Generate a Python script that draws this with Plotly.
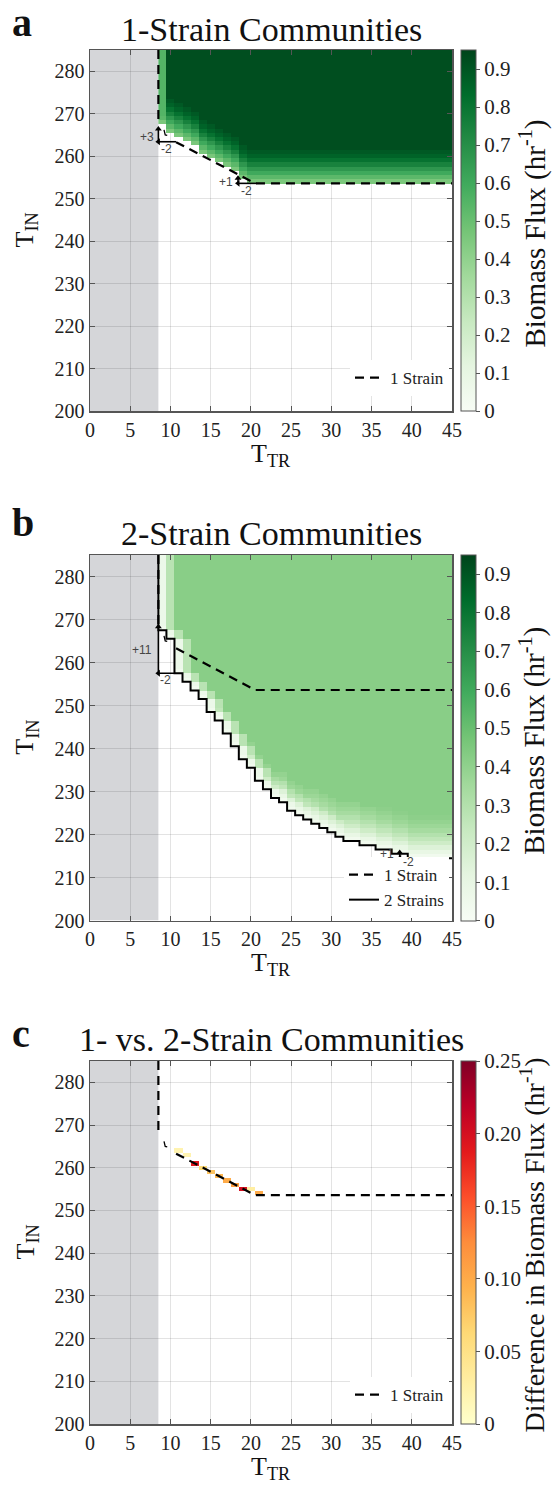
import plotly.graph_objects as go

W, H = 552, 1489

# ---------------- data ----------------
T_TR = list(range(9, 46))          # heat-map cell centres (T_TR)
T_IN = list(range(200, 286))       # heat-map cell centres (T_IN)
X_TICKS = [0, 5, 10, 15, 20, 25, 30, 35, 40, 45]
Y_TICKS = [200, 210, 220, 230, 240, 250, 260, 270, 280]
CB_TICKS_AB = [0, 0.1, 0.2, 0.3, 0.4, 0.5, 0.6, 0.7, 0.8, 0.9]
CB_TICKS_C = [0, 0.05, 0.10, 0.15, 0.20, 0.25]
CB_TEXT_C = ["0", "0.05", "0.10", "0.15", "0.20", "0.25"]
INFEASIBLE_TR = 8.5

# Panel a: lowest feasible T_IN per T_TR column (9..45)
BOUND_A = [268, 266, 265, 264, 263, 261, 260, 259, 258, 257, 255, 254,
           254, 254, 254, 254, 254, 254, 254, 254, 254, 254, 254, 254, 254,
           254, 254, 254, 254, 254, 254, 254, 254, 254, 254, 254, 254]
FADE_A = [8] * 37
RAMP_A = [0.46, 0.53, 0.60, 0.67, 0.75, 0.81, 0.86, 0.89]
EDGE_A = [0.55]
PLATEAU_A = 0.92

# Panel b: lowest feasible T_IN per T_TR column (9..45)
BOUND_B = [268, 266, 258, 256, 254, 252, 249, 247, 244, 241, 238, 236,
           233, 231, 229, 228, 226, 225, 224, 223, 222, 221, 220, 219, 219,
           218, 218, 217, 217, 216, 216, 215, 215, 215, 215, 215, 215]
FADE_B = [2, 2, 2, 3, 3, 4, 4, 5, 5, 5, 5, 6, 6, 6, 6, 7, 7, 7, 7, 8, 8,
          8, 8, 9, 9, 9, 9, 10, 10, 10, 10, 10, 10, 10, 10, 10, 10]
RAMP_B = [0.04, 0.09, 0.15, 0.21, 0.26, 0.30, 0.34, 0.37, 0.39, 0.41]
EDGE_B = [0.07, 0.28]
PLATEAU_B = 0.42

# 1-strain boundary (dashed line)
ONE_X = [8.5, 8.5, None, 10.7, 13.7, 17.0, 20.5, 45.0]
ONE_Y = [285, 268, None, 263.3, 260.4, 257.1, 253.6, 253.6]
TICK_X = [9.2, 9.35, 9.6]
TICK_Y = [266.2, 265.0, 264.9]

# Panel c: difference cells
DIFF_TR = [11, 12, 13, 14, 15, 16, 17, 18, 19, 20, 21]
DIFF_IN = [264, 263, 261, 260, 259, 258, 257, 256, 255, 255, 254]
DIFF_VAL = [0.02, 0.02, 0.19, 0.06, 0.08, 0.09, 0.10, 0.11, 0.20, 0.03, 0.10]

# shift markers (tail x, tail y, head x, head y) and their labels
ARROWS_A = [(8.5, 263.4, 8.5, 266.4), (10.7, 263.4, 8.5, 263.4),
            (18.4, 253.6, 18.4, 254.8), (20.7, 253.6, 18.4, 253.6)]
LABELS_A = [(8.2, 264.4, '+3', 'right'), (9.5, 261.8, '-2', 'center'),
            (18.0, 253.9, '+1', 'right'), (19.5, 251.9, '-2', 'center')]
ARROWS_B = [(8.5, 257.5, 8.5, 268.3), (10.5, 257.5, 8.5, 257.5),
            (38.5, 214.5, 38.5, 215.8), (40.6, 214.5, 38.5, 214.5)]
LABELS_B = [(8.0, 262.9, '+11', 'right'), (9.4, 256.0, '-2', 'center'),
            (38.0, 215.4, '+1', 'right'), (39.6, 213.7, '-2', 'center')]

GREENS = ['#f7fcf5', '#e5f5e0', '#c7e9c0', '#a1d99b', '#74c476',
          '#41ab5d', '#238b45', '#006d2c', '#00441b']
YLORRD = ['#ffffcc', '#ffeda0', '#fed976', '#feb24c', '#fd8d3c',
          '#fc4e2a', '#e31a1c', '#bd0026', '#800026']


def scale(cols):
    n = len(cols) - 1
    return [[i / n, c] for i, c in enumerate(cols)]


def build_field(bound, fade, ramp, edge, plateau):
    z = []
    for r in T_IN:
        feas = [c for c, b in zip(T_TR, bound) if r >= b]
        left = min(feas) if feas else None
        row = []
        for c, b, f in zip(T_TR, bound, fade):
            if r < b:
                row.append(None)
                continue
            dy = r - b
            v = ramp[min(len(ramp) - 1, int(dy * len(ramp) / f))] if dy < f else plateau
            dx = c - left
            if dx < len(edge):
                v = min(v, edge[dx])
            row.append(v)
        z.append(row)
    return z


Z_A = build_field(BOUND_A, FADE_A, RAMP_A, EDGE_A, PLATEAU_A)
Z_B = build_field(BOUND_B, FADE_B, RAMP_B, EDGE_B, PLATEAU_B)
Z_C = [[None for _ in T_TR] for _ in T_IN]
for c, r, v in zip(DIFF_TR, DIFF_IN, DIFF_VAL):
    Z_C[T_IN.index(r)][T_TR.index(c)] = v

# 2-strain step boundary
TWO_X = [INFEASIBLE_TR] + [c - 0.5 for c in T_TR] + [45.0]
TWO_Y = [285] + [b - 0.5 for b in BOUND_B] + [BOUND_B[-1] - 0.5]

# ---------------- layout geometry (pixels) ----------------
PL, PR = 90, 452
TOPS = [50, 555, 1061]
BOTS = [411, 920.5, 1424]
CB_X = 461
SERIF = "Liberation Serif"
SANS = "Liberation Sans"


def px_x(p):
    return p / W


def px_y(p):
    return 1 - p / H


fig = go.Figure()

axis_common = dict(
    showgrid=True, gridcolor='rgba(0,0,0,0.11)', gridwidth=1, automargin=False,
    ticks='inside', ticklen=5, tickwidth=1, tickcolor='#555',
    showline=True, linecolor='#555', linewidth=1.5, mirror='ticks',
    zeroline=False, tickfont=dict(family=SERIF, size=20, color='#222'),
)

for i in range(3):
    n = '' if i == 0 else str(i + 1)
    fig.update_layout(**{
        'xaxis' + n: dict(axis_common, domain=[px_x(PL), px_x(PR)], range=[0, 45],
                          tickvals=X_TICKS, anchor='y' + n),
        'yaxis' + n: dict(axis_common, domain=[px_y(BOTS[i]), px_y(TOPS[i])],
                          range=[200, 285], tickvals=Y_TICKS, anchor='x' + n),
    })
    fig.add_shape(type='rect', xref='x' + n, yref='y' + n, x0=0, x1=INFEASIBLE_TR,
                  y0=200, y1=285, fillcolor='#d5d6d9', line=dict(width=0), layer='below')


def cbar(i, tickvals, ticktext=None):
    d = dict(x=px_x(CB_X), xanchor='left', y=px_y((TOPS[i] + BOTS[i]) / 2), yanchor='middle',
             len=BOTS[i] - TOPS[i], lenmode='pixels', thickness=15, thicknessmode='pixels',
             xpad=0, ypad=0, outlinewidth=1, outlinecolor='#555',
             tickvals=tickvals, ticks='outside', ticklen=4, tickcolor='#555',
             tickfont=dict(family=SERIF, size=21, color='#222'))
    if ticktext:
        d['ticktext'] = ticktext
    return d


fig.add_trace(go.Heatmap(x=T_TR, y=T_IN, z=Z_A, colorscale=scale(GREENS), zmin=0, zmax=0.95,
                         colorbar=cbar(0, CB_TICKS_AB), hoverinfo='skip',
                         xaxis='x', yaxis='y'))
fig.add_trace(go.Heatmap(x=T_TR, y=T_IN, z=Z_B, colorscale=scale(GREENS), zmin=0, zmax=0.95,
                         colorbar=cbar(1, CB_TICKS_AB), hoverinfo='skip',
                         xaxis='x2', yaxis='y2'))
fig.add_trace(go.Heatmap(x=T_TR, y=T_IN, z=Z_C, colorscale=scale(YLORRD), zmin=0, zmax=0.25,
                         colorbar=cbar(2, CB_TICKS_C, CB_TEXT_C), hoverinfo='skip',
                         xaxis='x3', yaxis='y3'))

dash_line = dict(color='black', width=2.2, dash='9px,6px')
legends = ['legend', 'legend2', 'legend3']
for i in range(3):
    n = '' if i == 0 else str(i + 1)
    fig.add_trace(go.Scatter(x=ONE_X, y=ONE_Y, mode='lines', line=dash_line, name='1 Strain',
                             legend=legends[i], xaxis='x' + n, yaxis='y' + n, hoverinfo='skip'))
    fig.add_trace(go.Scatter(x=TICK_X, y=TICK_Y, mode='lines', line=dict(color='black', width=1.3),
                             showlegend=False, xaxis='x' + n, yaxis='y' + n, hoverinfo='skip'))
    if i == 1:
        fig.add_trace(go.Scatter(x=TWO_X, y=TWO_Y, mode='lines', line_shape='hv',
                                 line=dict(color='black', width=2), name='2 Strains',
                                 legend='legend2', xaxis='x2', yaxis='y2', hoverinfo='skip'))


def add_arrows(arrows, n):
    for (tx, ty, hx, hy) in arrows:
        sym = 'triangle-up' if hx == tx else 'triangle-left'
        fig.add_trace(go.Scatter(x=[tx, hx], y=[ty, hy], mode='lines',
                                 line=dict(color='black', width=1.6), showlegend=False,
                                 xaxis='x' + n, yaxis='y' + n, hoverinfo='skip'))
        fig.add_trace(go.Scatter(x=[hx], y=[hy], mode='markers',
                                 marker=dict(symbol=sym, size=6, color='black'),
                                 showlegend=False, xaxis='x' + n, yaxis='y' + n, hoverinfo='skip'))


add_arrows(ARROWS_A, '')
add_arrows(ARROWS_B, '2')

leg_common = dict(xanchor='right', yanchor='bottom', bgcolor='white', borderwidth=0,
                  font=dict(family=SERIF, size=17, color='#222'), itemwidth=30,
                  tracegroupgap=0)
fig.update_layout(
    legend=dict(leg_common, x=px_x(449), y=px_y(396)),
    legend2=dict(leg_common, x=px_x(449), y=px_y(918)),
    legend3=dict(leg_common, x=px_x(449), y=px_y(1413)),
)

ann = []
TITLES = ["1-Strain Communities", "2-Strain Communities", "1- vs. 2-Strain Communities"]
LETTERS = ["a", "b", "c"]
LETTER_BASE = [38, 538, 1049]
TITLE_BASE = [42, 546, 1052]
CB_TITLES = ["Biomass Flux (hr<sup>-1</sup>)", "Biomass Flux (hr<sup>-1</sup>)",
             "Difference in Biomass Flux (hr<sup>-1</sup>)"]
CB_TITLE_SIZE = [29, 29, 28]
for i in range(3):
    mid = (TOPS[i] + BOTS[i]) / 2
    ann.append(dict(text=TITLES[i], xref='paper', yref='paper', x=px_x((PL + PR) / 2),
                    y=px_y(TITLE_BASE[i] + 8), xanchor='center', yanchor='bottom',
                    showarrow=False, font=dict(family=SERIF, size=34, color='#111')))
    ann.append(dict(text='<b>' + LETTERS[i] + '</b>', xref='paper', yref='paper', x=px_x(10),
                    y=px_y(LETTER_BASE[i] + 9), xanchor='left', yanchor='bottom',
                    showarrow=False, font=dict(family=SERIF, size=40, color='#111')))
    ann.append(dict(text='T<sub>TR</sub>', xref='paper', yref='paper', x=px_x((PL + PR) / 2),
                    y=px_y(BOTS[i] + 26), xanchor='center', yanchor='top',
                    showarrow=False, font=dict(family=SERIF, size=26, color='#111')))
    ann.append(dict(text='T<sub>IN</sub>', xref='paper', yref='paper', x=px_x(26),
                    y=px_y(mid), xanchor='center', yanchor='middle', textangle=-90,
                    showarrow=False, font=dict(family=SERIF, size=26, color='#111')))
    ann.append(dict(text=CB_TITLES[i], xref='paper', yref='paper', x=px_x(533),
                    y=px_y(mid + 3), xanchor='center', yanchor='middle', textangle=-90,
                    showarrow=False, font=dict(family=SERIF, size=CB_TITLE_SIZE[i], color='#111')))


def label(n, x, y, t, xa):
    return dict(xref='x' + n, yref='y' + n, x=x, y=y, text=t, showarrow=False, xanchor=xa,
                yanchor='middle', font=dict(family=SANS, size=12, color='#444'))


ann += [label('', *l) for l in LABELS_A]
ann += [label('2', *l) for l in LABELS_B]

fig.update_layout(width=W, height=H, autosize=False,
                  margin=dict(l=0, r=0, t=0, b=0, autoexpand=False),
                  paper_bgcolor='white', plot_bgcolor='white', annotations=ann,
                  font=dict(family=SERIF, color='#222'))

fig.write_html("out.html", config={'displayModeBar': False, 'staticPlot': True},
               post_script="document.body.style.margin='0';"
                           "document.body.style.overflow='hidden';")
